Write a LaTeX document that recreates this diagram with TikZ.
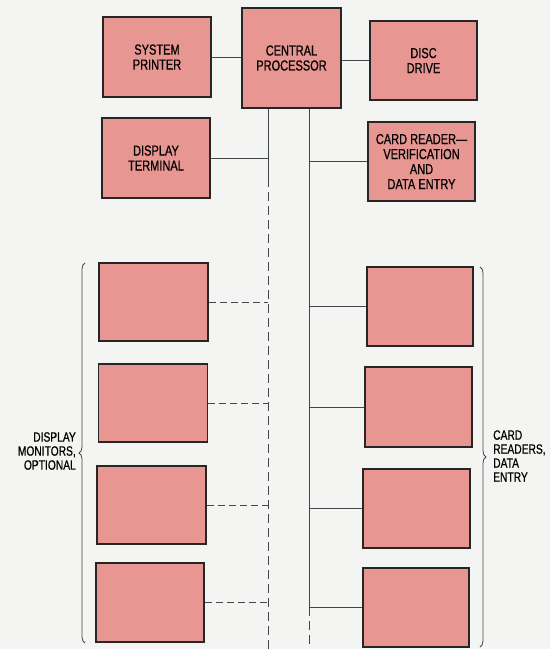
\documentclass[tikz,border=0pt]{standalone}
\usepackage{fontspec}
\setmainfont[FakeStretch=0.76,FakeBold=0.6]{Liberation Sans}
\usepackage{tikz}
\usetikzlibrary{positioning,calc,decorations.pathreplacing}
\definecolor{boxpink}{RGB}{232,150,145}
\definecolor{paper}{RGB}{244,244,242}
\definecolor{wire}{RGB}{62,72,72}

\begin{document}
\begin{tikzpicture}[x=1pt,y=-1pt,
  unit/.style={draw=black!85,line width=1.6pt,fill=boxpink,minimum width=107pt,minimum height=79pt,
    inner sep=0pt,align=center,font=\fontsize{14.5}{15}\selectfont},
  link/.style={wire,line width=0.9pt},
  optlink/.style={link,dash pattern=on 7pt off 4pt},
  buslink/.style={link,dash pattern=on 9pt off 5pt},
  sidetxt/.style={font=\fontsize{13.5}{14}\selectfont,inner sep=0pt},
  curly/.style={wire,line width=0.8pt,decorate,decoration={brace,amplitude=6pt}}]
  \fill[paper] (0,0) rectangle (550,649);
  \useasboundingbox (0,0) rectangle (550,649);
  \node[unit,minimum width=99pt,minimum height=100pt] (cpu) at (291.5,58) {CENTRAL\\PROCESSOR};
  \node[unit,minimum width=108pt,minimum height=80pt] (prn) at (157,57) {SYSTEM\\PRINTER};
  \node[unit] (disc) at (423.5,60.5) {DISC\\DRIVE};
  \node[unit,minimum width=108pt,minimum height=80pt] (term) at (156,158) {DISPLAY\\TERMINAL};
  \node[unit] (crd) at (421.5,161.5) {CARD READER---\\VERIFICATION\\AND\\DATA ENTRY};
  \node[unit,minimum width=109pt,minimum height=78pt] (mon1) at (153.5,302) {};
  \node[unit,minimum width=109pt,minimum height=78pt] (mon2) at (153,403) {};
  \node[unit,minimum width=109pt,minimum height=78pt] (mon3) at (151.5,505) {};
  \node[unit,minimum width=108pt] (mon4) at (150,602.5) {};
  \node[unit,minimum width=106pt] (card1) at (420,306.5) {};
  \node[unit,minimum width=107pt,minimum height=80pt] (card2) at (418.5,407) {};
  \node[unit] (card3) at (416.5,508.5) {};
  \node[unit,minimum width=106pt] (card4) at (416,607.5) {};
  \coordinate (bot) at (0,649);
  \coordinate (busL) at (268,178);
  \coordinate (busR) at (309,607);
  \draw[link] (prn.east) -- (prn.east -| cpu.west);
  \draw[link] (disc.west) -- (disc.west -| cpu.east);
  \draw[link] (cpu.south -| busL) -- (busL);
  \draw[buslink] (busL) -- (busL |- bot);
  \draw[link] (cpu.south -| busR) -- (busR);
  \draw[buslink] (busR) -- (busR |- bot);
  \draw[link] (term.east) -- (term.east -| busL);
  \draw[link] (crd.west) -- (crd.west -| busR);
  \draw[optlink] (mon1.east) -- (mon1.east -| busL);
  \draw[optlink] (mon2.east) -- (mon2.east -| busL);
  \draw[optlink] (mon3.east) -- (mon3.east -| busL);
  \draw[optlink] (mon4.east) -- (mon4.east -| busL);
  \draw[link] (card1.west) -- (card1.west -| busR);
  \draw[link] (card2.west) -- (card2.west -| busR);
  \draw[link] (card3.west) -- (card3.west -| busR);
  \draw[link] (card4.west) -- (card4.west -| busR);
  \draw[curly] (85,643) -- (85,263);
  \draw[curly] (480,267) -- (480,647);
  \node[sidetxt,anchor=east,align=right] (monlbl) at (76,451) {DISPLAY\\MONITORS,\\OPTIONAL};
  \node[sidetxt,anchor=west,align=left] (cardlbl) at (493,456) {CARD\\READERS,\\DATA\\ENTRY};
\end{tikzpicture}
\end{document}
